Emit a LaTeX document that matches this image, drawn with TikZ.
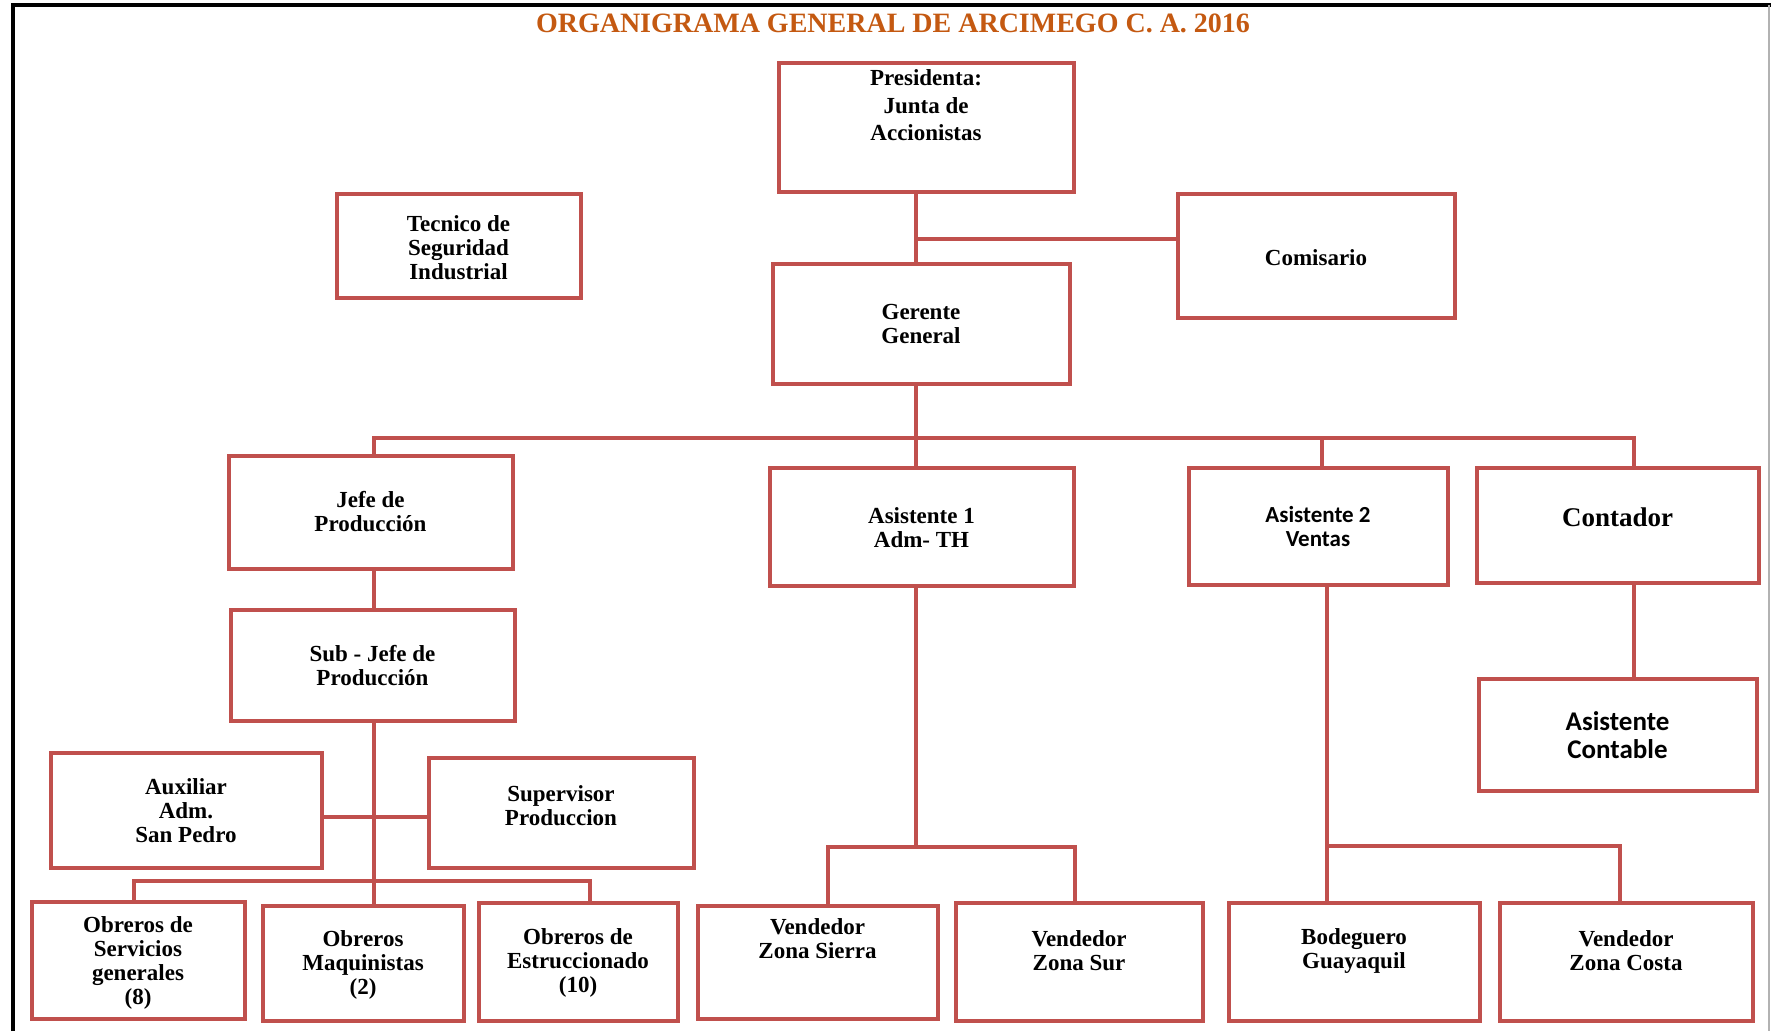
\documentclass[tikz,border=0pt]{standalone}
\usepackage{fontspec}
\setmainfont{Liberation Serif}
\newfontfamily\calibrifont{Carlito}
\definecolor{boxred}{RGB}{192,80,77}
\definecolor{titleorange}{RGB}{196,89,17}
\begin{document}
\begin{tikzpicture}[x=1pt,y=-1pt,
  box/.style 2 args={draw=boxred,line width=4pt,minimum width=#1,minimum height=#2,inner sep=0pt},
  txt/.style={font=\bfseries\fontsize{23}{24}\selectfont,align=center,inner sep=0pt},
  sans/.style={font=\calibrifont\bfseries\fontsize{23}{24}\selectfont,align=center,inner sep=0pt},
  link/.style={draw=boxred,line width=3.2pt}]
\useasboundingbox (0,0) rectangle (1771,1031);
% page frame
\draw[line width=3.5pt] (13,1031) -- (13,5) -- (1771,5);
\draw[line width=2pt,black!30] (1769,5) -- (1769,1031);
\node[font=\bfseries\fontsize{28}{30}\selectfont,text=titleorange] (title) at (893,23) {ORGANIGRAMA GENERAL DE ARCIMEGO C. A. 2016};
% top level
\node[box={295}{129}] (pres) at (926,127) {};
\node[txt,font=\bfseries\fontsize{23}{27.5}\selectfont] (pres-t) at (926,105.5) {Presidenta:\\Junta de\\Accionistas};
\node[box={244}{104}] (tec) at (458.5,245.5) {};
\node[txt] (tec-t) at (458.5,247.5) {Tecnico de\\Seguridad\\Industrial};
\node[box={277}{124}] (com) at (1316,255.5) {};
\node[txt] (com-t) at (1316,258) {Comisario};
\node[box={297}{120}] (ger) at (921,323.5) {};
\node[txt] (ger-t) at (921,323.5) {Gerente\\General};
% second level
\node[box={284}{113}] (jefe) at (370.5,512) {};
\node[txt] (jefe-t) at (370.5,512) {Jefe de\\Producción};
\node[box={304}{118}] (asi1) at (921.5,526.5) {};
\node[txt] (asi1-t) at (921.5,528) {Asistente 1\\Adm- TH};
\node[box={259}{117}] (asi2) at (1318,526) {};
\node[sans] (asi2-t) at (1318,527) {Asistente 2\\Ventas};
\node[box={282}{115}] (conta) at (1617.5,525) {};
\node[txt,font=\bfseries\fontsize{27}{30}\selectfont] (conta-t) at (1617.5,517) {Contador};
\node[box={278}{112}] (acon) at (1617.5,734.5) {};
\node[sans,font=\calibrifont\bfseries\fontsize{27}{28}\selectfont] (acon-t) at (1617.5,735.5) {Asistente\\Contable};
% produccion
\node[box={284}{111}] (sub) at (372.5,665) {};
\node[txt] (sub-t) at (372.5,666) {Sub - Jefe de\\Producción};
\node[box={271}{115}] (aux) at (186,810) {};
\node[txt] (aux-t) at (186,811) {Auxiliar\\Adm.\\San Pedro};
\node[box={265}{110}] (sup) at (561,812.5) {};
\node[txt] (sup-t) at (561,806) {Supervisor\\Produccion};
\node[box={213}{117}] (serv) at (138,960) {};
\node[txt] (serv-t) at (138,962.5) {Obreros de\\Servicios\\generales\\(8)};
\node[box={201}{115}] (maq) at (363,963) {};
\node[txt] (maq-t) at (363,965) {Obreros\\Maquinistas\\(2)};
\node[box={199}{118}] (estr) at (578,961.5) {};
\node[txt] (estr-t) at (578,962.5) {Obreros de\\Estruccionado\\(10)};
% ventas
\node[box={240}{113}] (sier) at (817.5,962) {};
\node[txt] (sier-t) at (817.5,939) {Vendedor\\Zona Sierra};
\node[box={247}{118}] (sur) at (1079,961.5) {};
\node[txt] (sur-t) at (1079,950.5) {Vendedor\\Zona Sur};
\node[box={251}{118}] (bod) at (1354,961.5) {};
\node[txt] (bod-t) at (1354,950.5) {Bodeguero\\Guayaquil};
\node[box={253}{118}] (cos) at (1626,961.5) {};
\node[txt] (cos-t) at (1626,950.5) {Vendedor\\Zona Costa};
% junctions
\coordinate (jCom) at (916,239);
\coordinate (jBus) at (916,438);
\coordinate (jBusL) at (374,438);
\coordinate (jBusA) at (1322,438);
\coordinate (jBusR) at (1634,438);
\coordinate (jAux) at (374,817);
\coordinate (jObL) at (134,881);
\coordinate (jObR) at (590,881);
\coordinate (jVen) at (916,847);
\coordinate (jVenL) at (828,847);
\coordinate (jVenR) at (1075,847);
\coordinate (jBod) at (1327,846);
\coordinate (jBodR) at (1620,846);
% connectors
\draw[link] (pres.south -| jCom) -- (ger.north -| jCom);
\draw[link] (jCom) -- (jCom -| com.west);
\draw[link] (ger.south -| jBus) -- (asi1.north -| jBus);
\draw[link] (jefe.north -| jBusL) -- (jBusL) -- (jBusR) -- (conta.north -| jBusR);
\draw[link] (jBusA) -- (asi2.north -| jBusA);
\draw[link] (jefe.south -| jBusL) -- (sub.north -| jBusL);
\draw[link] (sub.south -| jAux) -- (maq.north -| jAux);
\draw[link] (aux.east |- jAux) -- (sup.west |- jAux);
\draw[link] (serv.north -| jObL) -- (jObL) -- (jObR) -- (estr.north -| jObR);
\draw[link] (asi1.south -| jVen) -- (jVen);
\draw[link] (sier.north -| jVenL) -- (jVenL) -- (jVenR) -- (sur.north -| jVenR);
\draw[link] (asi2.south -| jBod) -- (bod.north -| jBod);
\draw[link] (jBod) -- (jBodR) -- (cos.north -| jBodR);
\draw[link] (conta.south -| jBusR) -- (acon.north -| jBusR);
\end{tikzpicture}
\end{document}
